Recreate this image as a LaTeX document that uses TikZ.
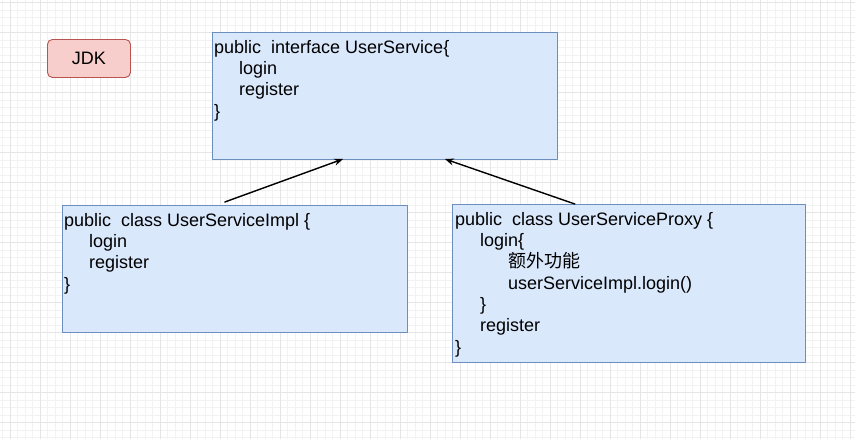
\documentclass[tikz,border=0pt]{standalone}
\usepackage{fontspec}
\setmainfont{Liberation Sans}
\newfontfamily\cjk{Noto Sans CJK SC}
\usepackage{tikz}
\usetikzlibrary{arrows.meta,calc,positioning}

\definecolor{classfill}{HTML}{DAE8FC}
\definecolor{classdraw}{HTML}{6C8EBF}
\definecolor{jdkfill}{HTML}{F8CECC}
\definecolor{jdkdraw}{HTML}{B85450}

\begin{document}
\begin{tikzpicture}[
  x=1pt, y=-1pt,
  line cap=round, line join=round,
  minorgrid/.style={draw=black!5, line width=0.6pt},
  majorgrid/.style={draw=black!10, line width=0.6pt},
  classbox/.style={
    rectangle, draw=classdraw, fill=classfill,
    line width=0.9pt, inner sep=0pt, outer sep=0pt, anchor=north west
  },
  jdkbox/.style={
    rectangle, rounded corners=5pt, draw=jdkdraw, fill=jdkfill,
    line width=0.9pt, inner sep=0pt, anchor=north west,
    minimum width=83pt, minimum height=38pt,
    font=\fontsize{18}{21.5}\selectfont
  },
  codetext/.style={
    anchor=north west, inner sep=0pt, align=left,
    font=\fontsize{18}{21.3}\selectfont
  },
  impl/.style={-{Stealth[length=9pt,width=7pt]}, line width=1.4pt, draw=black}
]
\useasboundingbox (0,0) rectangle (855,439);

% =========================================================================
% Raster (pozadie)
% =========================================================================
\foreach \gx in {2.5,10,...,855} \draw[minorgrid] (\gx,0) -- (\gx,439);
\foreach \gy in {2.5,10,...,439} \draw[minorgrid] (0,\gy) -- (855,\gy);
\foreach \gx in {10,40,...,850} \draw[majorgrid] (\gx,0) -- (\gx,439);
\foreach \gy in {2.5,32.5,...,439} \draw[majorgrid] (0,\gy) -- (855,\gy);

% =========================================================================
% Uzly
% =========================================================================
\node[jdkbox] (jdk) at (47,39) {JDK};

% rozhranie
\node[classbox, minimum width=345pt, minimum height=127pt] (iface) at (212,32) {};
\node[codetext] (ifacetext) at ($(iface.north west)+(2,8)$) {%
  public\ \ interface UserService\{\\
  \hspace*{25pt}login\\
  \hspace*{25pt}register\\
  \}};

% implementácia
\node[classbox, minimum width=345pt, minimum height=127pt] (implbox) at (62,205) {};
\node[codetext] (impltext) at ($(implbox.north west)+(2,8)$) {%
  public\ \ class UserServiceImpl \{\\
  \hspace*{25pt}login\\
  \hspace*{25pt}register\\
  \}};

% proxy
\node[classbox, minimum width=353pt, minimum height=158pt] (proxy) at (452,204) {};
\node[codetext] (proxytext) at ($(proxy.north west)+(3,8)$) {%
  public\ \ class UserServiceProxy \{\\
  \hspace*{25pt}login\{\\
  \hspace*{53pt}{\cjk 额外功能}\\
  \hspace*{53pt}userServiceImpl.login()\\
  \hspace*{25pt}\}\\
  \hspace*{25pt}register\\
  \}};

% =========================================================================
% Šípky
% =========================================================================
\draw[impl] ($(implbox.north west)!0.472!(implbox.north east)+(0,-3)$) --
  ($(iface.south west)!0.38!(iface.south east)$);
\draw[impl] ($(proxy.north west)!0.348!(proxy.north east)$) --
  ($(iface.south west)!0.675!(iface.south east)$);

\end{tikzpicture}
\end{document}
